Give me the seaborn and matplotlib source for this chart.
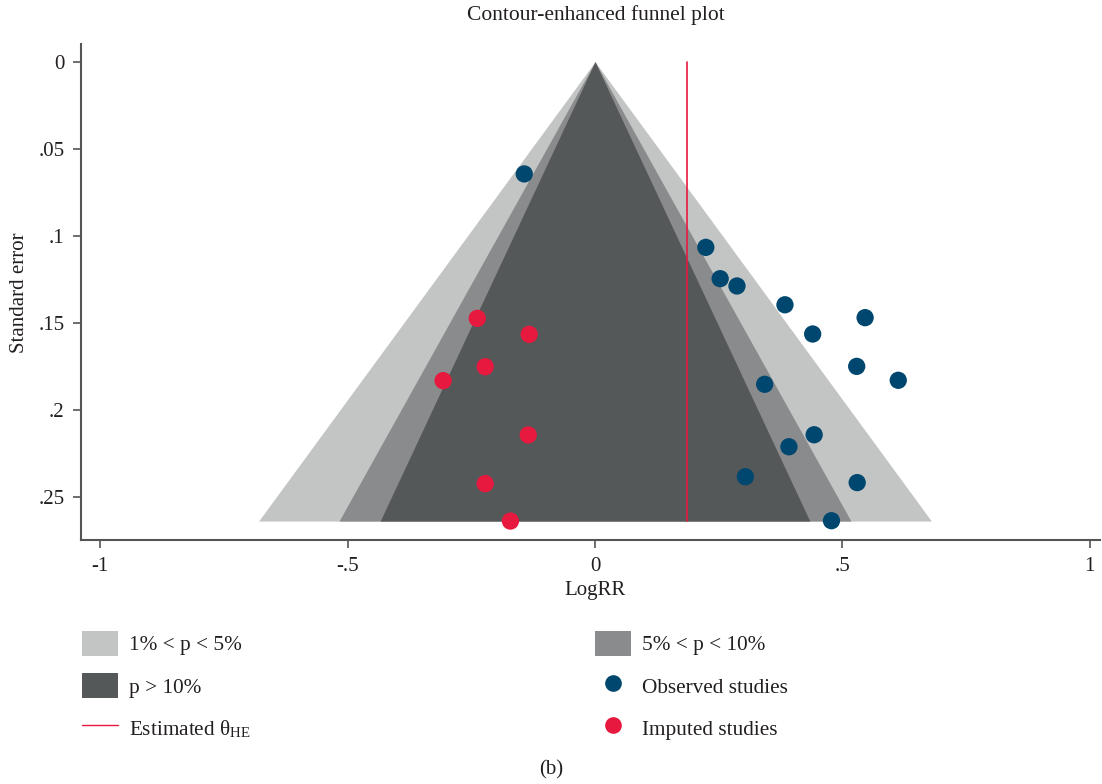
import numpy as np
import pandas as pd
import matplotlib
matplotlib.use("Agg")
import matplotlib.pyplot as plt
from matplotlib.patches import Patch
from matplotlib.lines import Line2D
import seaborn as sns

# Observed studies (log risk ratio and its standard error)
obs_logrr = [-0.143, 0.224, 0.253, 0.287, 0.384, 0.546, 0.440, 0.529, 0.613,
             0.343, 0.443, 0.392, 0.304, 0.530, 0.478]
obs_se = [0.0645, 0.1067, 0.1247, 0.1289, 0.1397, 0.1471, 0.1565, 0.1751, 0.1831,
          0.1854, 0.2144, 0.2213, 0.2385, 0.2419, 0.2638]

# Studies imputed by trim-and-fill
imp_logrr = [-0.238, -0.133, -0.222, -0.307, -0.135, -0.222, -0.171]
imp_se = [0.1475, 0.1567, 0.1753, 0.1833, 0.2145, 0.2425, 0.2640]

# Estimated overall effect
theta_he = 0.185

# Significance contours (two-sided z critical values)
contour_labels = ["1% < p < 5%", "5% < p < 10%", "p > 10%"]
contour_z = [2.576, 1.960, 1.645]
contour_colors = ["#c3c5c4", "#8a8b8c", "#555859"]

x_ticks = [-1, -0.5, 0, 0.5, 1]
x_ticklabels = ["-1", "-.5", "0", ".5", "1"]
y_ticks = [0, 0.05, 0.1, 0.15, 0.2, 0.25]
y_ticklabels = ["0", ".05", ".1", ".15", ".2", ".25"]

blue = "#00476f"
red = "#e8193f"
ink = "#231f20"
axis_grey = "#555555"

sns.set_theme(style="white")
plt.rcParams["font.family"] = ["Liberation Serif", "DejaVu Serif"]
plt.rcParams["mathtext.fontset"] = "stix"
plt.rcParams["text.color"] = ink

df = pd.concat([
    pd.DataFrame({"logrr": obs_logrr, "se": obs_se, "kind": "Observed studies"}),
    pd.DataFrame({"logrr": imp_logrr, "se": imp_se, "kind": "Imputed studies"}),
], ignore_index=True)

W, H = 1102, 784
fig = plt.figure(figsize=(W / 100, H / 100), dpi=100)
ax = fig.add_axes([81 / W, 1 - 540 / H, (1100 - 81) / W, (540 - 44) / H])

se_max = max(df["se"])
se_grid = np.array([0.0, se_max])
for z, col in zip(contour_z, contour_colors):
    ax.fill_betweenx(se_grid, -z * se_grid, z * se_grid, color=col, lw=0, zorder=1)

line_df = pd.DataFrame({"logrr": [theta_he, theta_he], "se": [0.0, se_max]})
sns.lineplot(data=line_df, x="logrr", y="se", color=red, lw=1.2, ax=ax,
             sort=False, estimator=None, zorder=2)

sns.scatterplot(data=df, x="logrr", y="se", hue="kind",
                palette={"Observed studies": blue, "Imputed studies": red},
                s=155, edgecolor="none", linewidth=0, ax=ax, legend=False, zorder=3)

ax.set_xlim((81 - 595) / 494.7, (1100 - 595) / 494.7)
ax.set_ylim((540 - 61.7) / 1740, (44 - 61.7) / 1740)

ax.set_xticks(x_ticks)
ax.set_xticklabels(x_ticklabels)
ax.set_yticks(y_ticks)
ax.set_yticklabels(y_ticklabels)
ax.tick_params(axis="both", direction="out", length=6, width=1.2, color=axis_grey,
               labelsize=15, labelcolor=ink, pad=6, left=True, bottom=True)

for side in ["top", "right"]:
    ax.spines[side].set_visible(False)
for side in ["left", "bottom"]:
    ax.spines[side].set_color(axis_grey)
    ax.spines[side].set_linewidth(1.5)

ax.set_xlabel("LogRR", fontsize=15, color=ink)
ax.set_ylabel("Standard error", fontsize=15, color=ink)
ax.xaxis.set_label_coords((595 - 81) / (1100 - 81), -(591 - 540) / (540 - 44), transform=ax.transAxes)
ax.yaxis.set_label_coords(-(81 - 20) / (1100 - 81), (540 - 293) / (540 - 44), transform=ax.transAxes)
ax.xaxis.label.set_verticalalignment("center")
ax.yaxis.label.set_verticalalignment("center")

fig.text(596 / W, 1 - 15 / H, "Contour-enhanced funnel plot", ha="center", va="center",
         fontsize=15.5, color=ink)
fig.text(551 / W, 1 - 770 / H, "(b)", ha="center", va="center", fontsize=15, color=ink)

leg_kw = dict(frameon=False, fontsize=15.3, loc="upper left", borderpad=0, borderaxespad=0,
              handlelength=1.7, handleheight=1.4, labelspacing=0.84, handletextpad=0.5,
              labelcolor=ink)

left_handles = [
    Patch(facecolor=contour_colors[0], edgecolor="none"),
    Patch(facecolor=contour_colors[2], edgecolor="none"),
    Line2D([0], [0], color=red, lw=1.0),
]
left_labels = [contour_labels[0], contour_labels[2], "Estimated θ$_{\\mathregular{HE}}$"]
leg1 = fig.legend(left_handles, left_labels, bbox_to_anchor=(82 / W, 1 - 631 / H), **leg_kw)

right_handles = [
    Patch(facecolor=contour_colors[1], edgecolor="none"),
    Line2D([0], [0], marker="o", ls="none", markersize=12, markerfacecolor=blue,
           markeredgecolor="none"),
    Line2D([0], [0], marker="o", ls="none", markersize=12, markerfacecolor=red,
           markeredgecolor="none"),
]
right_labels = [contour_labels[1], "Observed studies", "Imputed studies"]
leg2 = fig.legend(right_handles, right_labels, bbox_to_anchor=(595 / W, 1 - 631 / H), **leg_kw)

fig.savefig("out.png", dpi=100, facecolor="white")
